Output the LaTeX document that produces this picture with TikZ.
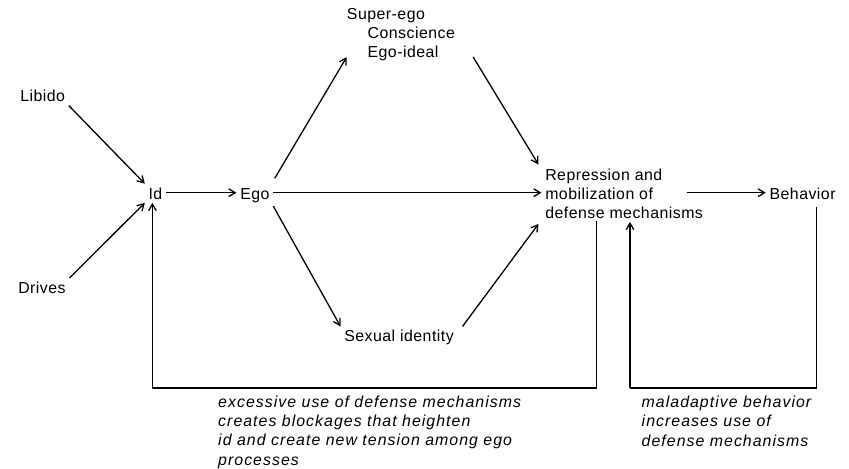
\documentclass[tikz,border=0pt]{standalone}
\usepackage{fontspec}
\setmainfont{Liberation Sans}[LetterSpace=3]
\newfontfamily\notefont{Liberation Sans}[LetterSpace=6.5]
\usetikzlibrary{arrows.meta,calc}
\begin{document}
\begin{tikzpicture}[x=0.85pt,y=-0.85pt,
  lbl/.style={inner sep=3pt, anchor=base west, align=left,
    font=\fontsize{13.5}{15.8}\selectfont},
  note/.style={inner sep=0pt, anchor=base west, align=left,
    font=\notefont\fontsize{13.5}{16.2}\selectfont\itshape},
  flow/.style={line width=1.1pt, -{Straight Barb[length=5.5pt,width=6.5pt]}},
  plain/.style={line width=1.1pt}]
\useasboundingbox (0,0) rectangle (849,468);

% labels; multi-line labels are placed by the baseline of their last line
\node[lbl] (lib) at (16.5,101.7) {Libido};
\node[lbl] (drv) at (14.5,293.3) {Drives};
\node[lbl] (id)  at (144.8,199) {Id};
\node[lbl] (ego) at (236.5,199) {Ego};
\node[lbl] (sup) at (343.2,57) {Super-ego\\\hspace{1.3em}Conscience\\\hspace{1.3em}Ego-ideal};
\node[lbl] (rep) at (541.5,218) {Repression and\\mobilization of\\defense mechanisms};
\node[lbl] (beh) at (765.8,199) {Behavior};
\node[lbl] (sex) at (340.5,341.7) {Sexual identity};

% feedback notes
\node[note] (n1) at (218,465) {excessive use of defense mechanisms\\creates blockages that heighten\\id and create new tension among ego\\processes};
\node[note] (n2) at (641.5,446) {maladaptive behavior\\increases use of\\defense mechanisms};

% the main row runs through the middle of the capitals
\coordinate (idout) at ($(id.base east)+(0,-6.3)$);
\coordinate (egoin) at ($(ego.base west)+(0,-6.3)$);
\coordinate (egoout) at ($(ego.base east)+(0,-6.3)$);
\coordinate (repin) at ($(rep.west |- ego.base east)+(0,-6.3)$);
\coordinate (repout) at ($(rep.west |- beh.base west)+(145,-6.3)$);
\coordinate (behin) at ($(beh.base west)+(0,-6.3)$);

% forward connectors
\draw[flow] (lib.south east) -- (id.north west);
\draw[flow] (drv.north east) -- (id.south west);
\draw[flow] (idout) -- (egoin);
\draw[flow] ($(ego.north east)+(1.5,-6)$) -- ($(sup.base west)+(3.5,0)$);
\draw[flow] (egoout) -- (repin);
\draw[flow] (ego.south east) -- (sex.north west);
\draw[flow] ($(sup.base east)+(14.5,0)$) -- ($(rep.north west)+(-3,-1)$);
\draw[flow] ($(sex.north east)+(5,0)$) -- ($(rep.south west)+(-3,2)$);
\draw[flow] (repout) -- (behin);

% feedback loops
\coordinate (fb1) at ($(rep.south west)+(55,-1)$);
\coordinate (fb2) at ($(rep.south west)+(88.5,0)$);
\coordinate (bout) at ($(beh.south west)+(51,4)$);
\coordinate (idin) at ($(id.south)+(-3,0)$);
\draw[plain] (fb1) -- (fb1 |- 0,388) -- (idin |- 0,388);
\draw[flow] (idin |- 0,388) -- (idin);
\draw[plain] (bout) -- (bout |- 0,388) -- (fb2 |- 0,388);
\draw[flow] (fb2 |- 0,388) -- (fb2);
\end{tikzpicture}
\end{document}
